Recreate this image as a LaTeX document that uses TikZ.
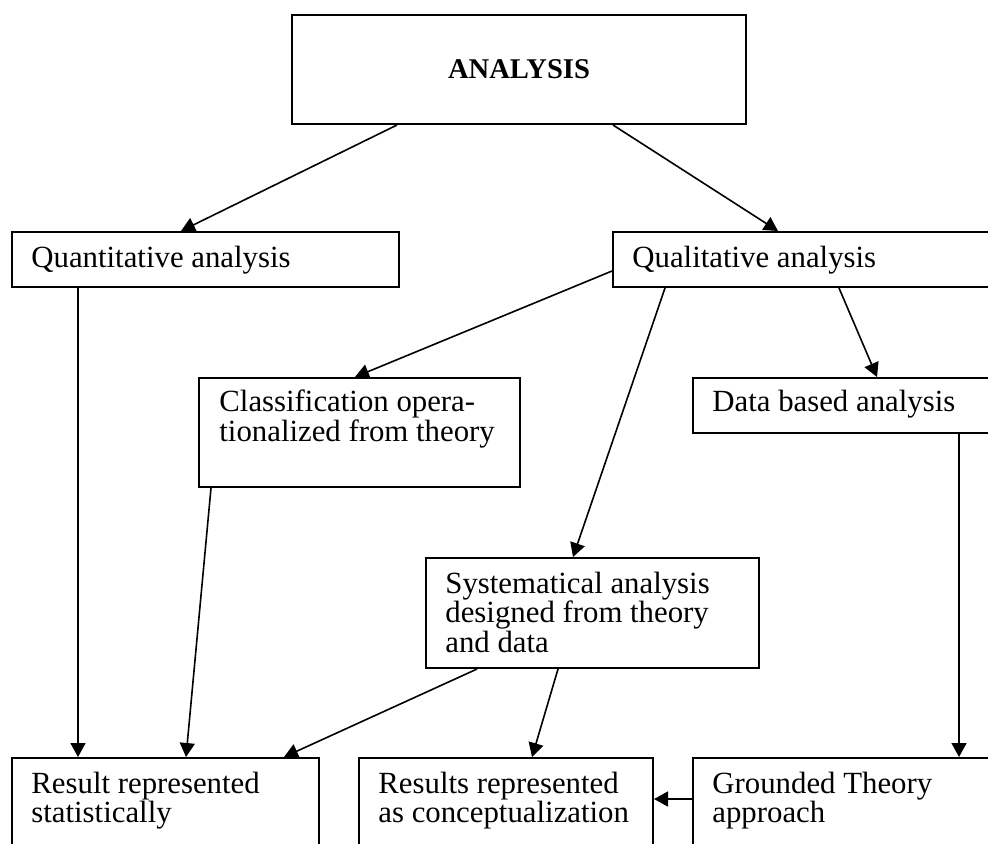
\documentclass[tikz,border=0pt]{standalone}
\usepackage{fontspec}
\setmainfont{Liberation Serif}
\usetikzlibrary{arrows.meta,calc}
\newcommand\mytxtfont{\fontsize{15.4}{14.8}\selectfont\lineskiplimit=-20pt\relax}
\tikzset{
  box/.style={draw, line width=1pt, rectangle, inner sep=0pt, anchor=north west},
  txt/.style={anchor=north west, inner sep=0pt, align=left, font=\mytxtfont},
  arr/.style={-{Triangle[length=7pt,width=7.5pt]}, line width=0.8pt},
}
\begin{document}
\begin{tikzpicture}[x=0.5pt,y=-0.5pt]
\useasboundingbox (0,0) rectangle (988,843);
\clip (0,0) rectangle (988,843);
% boxes
\node[box, minimum width=227pt, minimum height=54.5pt, font=\fontsize{14.3}{14.8}\selectfont\bfseries] (ana) at (291,14) {ANALYSIS};
\node[box, minimum width=193.5pt, minimum height=27.5pt] (quant) at (11,231) {};
\node[box, minimum width=200pt, minimum height=27.5pt] (qual) at (612,231) {};
\node[box, minimum width=160.5pt, minimum height=54.5pt] (cls) at (198,377) {};
\node[box, minimum width=160pt, minimum height=27.5pt] (data) at (692,377) {};
\node[box, minimum width=166.5pt, minimum height=55pt] (sys) at (425,557) {};
\node[box, minimum width=153.5pt, minimum height=60pt] (res1) at (11,757) {};
\node[box, minimum width=147pt, minimum height=60pt] (res2) at (358,757) {};
\node[box, minimum width=160pt, minimum height=60pt] (gt) at (692,757) {};
% texts
\node[txt] (tquant) at ($(quant.north west)+(20,14.3)$) {\strut Quantitative analysis};
\node[txt] (tqual) at ($(qual.north west)+(20,14.3)$) {\strut Qualitative analysis};
\node[txt] (tcls) at ($(cls.north west)+(21,12.3)$) {\strut Classification opera-\\tionalized from theory};
\node[txt] (tdata) at ($(data.north west)+(20,12.3)$) {\strut Data based analysis};
\node[txt] (tsys) at ($(sys.north west)+(20,14.3)$) {\strut Systematical analysis\\designed from theory\\and data};
\node[txt] (tres1) at ($(res1.north west)+(20,14.3)$) {\strut Result represented\\statistically};
\node[txt] (tres2) at ($(res2.north west)+(20,14.3)$) {\strut Results represented\\as conceptualization};
\node[txt] (tgt) at ($(gt.north west)+(20,14.3)$) {\strut Grounded Theory\\approach};
% connectors
\draw[arr] ($(ana.south west)+(106,0)$) -- ($(quant.north west)+(170,0)$);
\draw[arr] ($(ana.south west)+(322,0)$) -- ($(qual.north west)+(166,0)$);
\draw[arr] ($(quant.south west)+(67,0)$) -- ($(res1.north west)+(67,0)$);
\draw[arr] ($(qual.south west)+(0,-17)$) -- ($(cls.north west)+(157,0)$);
\draw[arr] ($(qual.south west)+(53,0)$) -- ($(sys.north west)+(148,0)$);
\draw[arr] ($(qual.south west)+(227,0)$) -- ($(data.north west)+(185,0)$);
\draw[arr] ($(data.south west)+(267,0)$) -- ($(gt.north west)+(267,0)$);
\draw[arr] ($(cls.south west)+(13,0)$) -- ($(res1.north west)+(175,0)$);
\draw[arr] ($(sys.south west)+(52,0)$) -- ($(res1.north west)+(273,0)$);
\draw[arr] ($(sys.south west)+(133,0)$) -- ($(res2.north west)+(174,0)$);
\draw[arr] ($(gt.north west)+(0,42)$) -- ($(res2.north east)+(0,42)$);
\end{tikzpicture}
\end{document}
